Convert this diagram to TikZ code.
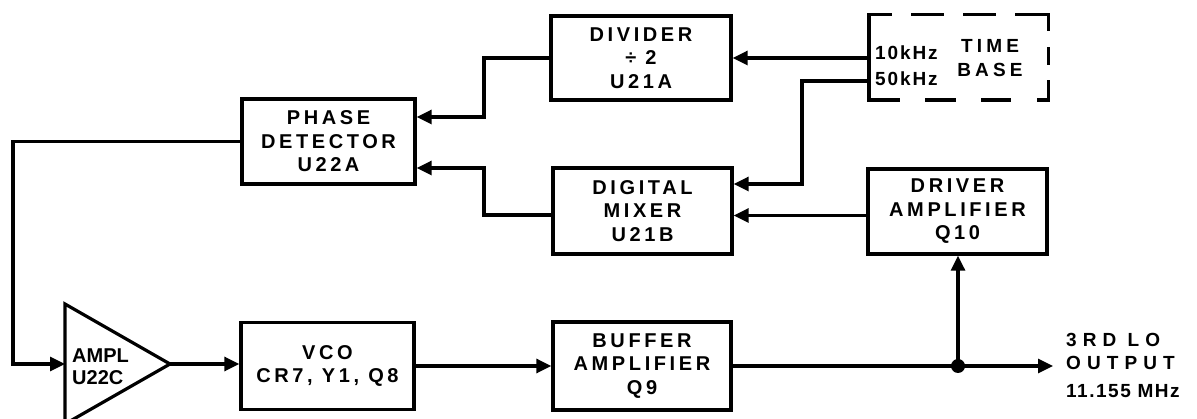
\documentclass[tikz,border=0pt]{standalone}
\usepackage{fontspec}
\setmainfont{Liberation Sans}
\newfontfamily\boxfont[LetterSpace=18]{Liberation Sans}
\newfontfamily\ampfont[LetterSpace=0]{Liberation Sans}
\newfontfamily\khzfont[LetterSpace=10]{Liberation Sans}
\newfontfamily\tbfont[LetterSpace=22]{Liberation Sans}
\newfontfamily\outfont[LetterSpace=32]{Liberation Sans}
\newfontfamily\numfont[LetterSpace=8]{Liberation Sans}
\usetikzlibrary{arrows.meta}
\begin{document}
\begin{tikzpicture}[x=1pt,y=-1pt,
  blk/.style={draw, line width=3.4pt, inner sep=0pt, align=center,
    font=\boxfont\bfseries\fontsize{20}{23.5}\selectfont},
  wire/.style={line width=3.2pt},
  arr/.style={wire, -{Triangle[length=15pt,width=14pt]}},
  dbox/.style={line width=3.4pt, line cap=rect},
  tblbl/.style={inner sep=0pt, font=\tbfont\bfseries\fontsize{19}{22}\selectfont},
  khz/.style={inner sep=0pt, font=\khzfont\bfseries\fontsize{19}{22}\selectfont},
  amplbl/.style={inner sep=0pt, align=left, font=\ampfont\bfseries\fontsize{20}{22}\selectfont},
  outlbl/.style={inner sep=0pt, font=\outfont\bfseries\fontsize{19}{22}\selectfont},
  numlbl/.style={inner sep=0pt, font=\numfont\bfseries\fontsize{19}{22}\selectfont}
]
\useasboundingbox (0,0) rectangle (1197,419);

% blocks
\node[blk, minimum width=173pt, minimum height=85pt] (pd) at (328.5,141.5) {PHASE\\DETECTOR\\U22A};
\node[blk, minimum width=180pt, minimum height=84pt] (div) at (641,58) {DIVIDER\\÷ 2\\U21A};
\node[blk, minimum width=179pt, minimum height=86pt] (mix) at (642.5,211) {DIGITAL\\MIXER\\U21B};
\node[blk, minimum width=179pt, minimum height=85pt] (drv) at (957.5,211.5) {DRIVER\\AMPLIFIER\\Q10};
\node[blk, minimum width=178pt, minimum height=88pt] (buf) at (642,366) {BUFFER\\AMPLIFIER\\Q9};
\node[blk, minimum width=173pt, minimum height=87pt] (vco) at (327.5,366) {VCO\\CR7, Y1, Q8};

% time base (dashed)
\node[inner sep=0pt, minimum width=179pt, minimum height=85pt] (tb) at (958.5,57.5) {};
\draw[dbox] (tb.north west) -- (tb.south west);
\draw[dbox, dash pattern=on 29pt off 23pt, dash phase=8pt] (tb.north west) -- (tb.north east);
\draw[dbox, dash pattern=on 15pt off 18.5pt] (tb.north east) -- (tb.south east);
\draw[dbox, dash pattern=on 27pt off 28.7pt, dash phase=17pt] (tb.south east) -- (tb.south west);
\node[khz, anchor=base west] (k10) at (875,60) {10kHz};
\node[khz, anchor=base west] (k50) at (875,86) {50kHz};
\node[tblbl, anchor=base] (tbt) at (990,53) {TIME};
\node[tblbl, anchor=base] (tbb) at (990,77) {BASE};

% amplifier
\coordinate (ampin) at (65,364);
\coordinate (ampout) at (170,364);
\draw[line width=3.2pt, line join=miter] (65,304) -- (ampout) -- (65,424) -- cycle;
\node[amplbl, anchor=base west] (ampa) at (72,363) {AMPL};
\node[amplbl, anchor=base west] (ampb) at (72,385) {U22C};

% connections
\draw[arr] (pd.west) -- (13,141.5) -- (13,364) -- (ampin);
\draw[arr] (ampout) -- (ampout -| vco.west);
\draw[arr] (vco.east) -- (buf.west);
\draw[arr] (div.west) -- (484,58) |- ([yshift=24.5pt]pd.east);
\draw[arr] ([yshift=-4pt]mix.west) -- (484,215) |- ([yshift=-26.5pt]pd.east);
\draw[arr] (tb.west |- div.east) -- (div.east);
\draw[arr] (tb.west |- 0,81) -- (802,81) -- (802,184) -- ([yshift=27pt]mix.east);
\draw[arr] ([yshift=-4pt]drv.west) -- ([yshift=-4pt]drv.west -| mix.east);

\coordinate (j) at (958,366);
\coordinate (out) at (1053,366);
\draw[wire] (buf.east) -- (j);
\draw[arr] (j) -- (out);
\draw[arr] (j) -- (j |- drv.south);
\fill (j) circle (7pt);

% output label
\node[outlbl, anchor=base west] (o1) at (1066,347) {3RD LO};
\node[outlbl, anchor=base west] (o2) at (1066,370) {OUTPUT};
\node[numlbl, anchor=base west] (o3) at (1066,398) {11.155 MHz};
\end{tikzpicture}
\end{document}
